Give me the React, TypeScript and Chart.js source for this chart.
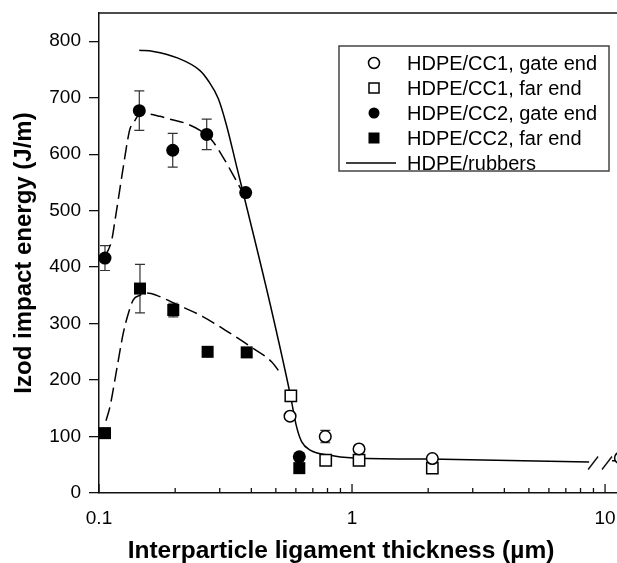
import React, { useEffect, useRef } from 'react';
import { Chart, registerables } from 'chart.js';

Chart.register(...registerables);

// ---------- data ----------
const cc1GateX = [0.569, 0.784, 1.066, 2.077, 11.5];
const cc1GateY = [136, 100, 78, 61, 62];
const cc1GateErr = [0, 11, 0, 0, 0];

const cc1FarX = [0.573, 0.787, 1.066, 2.077];
const cc1FarY = [172, 58, 58, 44];

const cc2GateX = [0.1056, 0.1443, 0.1956, 0.2665, 0.38, 0.619];
const cc2GateY = [416, 677, 607, 635, 532, 64];
const cc2GateErr = [22, 35, 30, 27, 0, 0];

const cc2FarX = [0.1056, 0.1452, 0.1966, 0.2687, 0.3835, 0.619];
const cc2FarY = [106, 362, 324, 250, 249, 44];
const cc2FarErr = [8, 43, 12, 0, 0, 0];

const rubbersX = [0.1443, 0.164, 0.2026, 0.2507, 0.2703, 0.2963, 0.3196, 0.35, 0.389, 0.4738, 0.569, 0.604, 0.632, 0.683, 0.818, 0.984, 2.03, 8.65, 9.5, 10.66, 11.5];
const rubbersY: (number | null)[] = [784, 782, 771, 748, 730, 698, 650, 578, 495, 336, 176, 117, 91, 76, 67, 62.5, 60, 55, null, 57, 57];

const gateFitX = [0.1056, 0.1123, 0.1157, 0.1248, 0.1306, 0.1326, 0.1388, 0.1443, 0.1497, 0.1742, 0.1908, 0.2187, 0.2507, 0.2788, 0.306, 0.3392, 0.366, 0.378];
const gateFitY = [418, 448, 483, 578, 632, 645, 660, 671, 672, 667, 662, 655, 642, 625, 598, 563, 536, 524];

const farFitX = [0.1066, 0.1105, 0.1174, 0.1247, 0.1306, 0.1366, 0.1452, 0.1544, 0.1689, 0.2026, 0.2582, 0.3294, 0.4068, 0.4818, 0.527];
const farFitY = [128, 153, 218, 283, 318, 342, 350, 354, 350, 334, 312, 283, 256, 232, 209];

const breakAtX = [8.97, 10.18];
const breakAtY = 54;

const yTicks = [0, 100, 200, 300, 400, 500, 600, 700, 800];
const xLabelTicks = [0.1, 1, 10];

const xTitle = 'Interparticle ligament thickness (\u00b5m)';
const yTitle = 'Izod impact energy (J/m)';

const legendLabels = [
  'HDPE/CC1, gate end',
  'HDPE/CC1, far end',
  'HDPE/CC2, gate end',
  'HDPE/CC2, far end',
  'HDPE/rubbers',
];

const FONT = "'Liberation Sans', Arial, Helvetica, sans-serif";

const pts = (xs: number[], ys: (number | null)[]) => xs.map((x, i) => ({ x, y: ys[i] }));

const isNiceLog = (v: number) => {
  const e = Math.floor(Math.log10(v) + 1e-9);
  const s = v / Math.pow(10, e);
  return Math.abs(s - Math.round(s)) < 1e-6;
};

const errorBarPlugin = {
  id: 'errorBars',
  beforeDatasetsDraw(chart: any) {
    const ctx = chart.ctx;
    const xs = chart.scales.x;
    const ys = chart.scales.y;
    const sets = [
      { x: cc1GateX, y: cc1GateY, e: cc1GateErr },
      { x: cc2GateX, y: cc2GateY, e: cc2GateErr },
      { x: cc2FarX, y: cc2FarY, e: cc2FarErr },
    ];
    ctx.save();
    ctx.strokeStyle = '#333';
    ctx.lineWidth = 1.2;
    sets.forEach((s) => {
      s.x.forEach((xv, i) => {
        const err = s.e[i];
        if (!err) return;
        const px = xs.getPixelForValue(xv);
        const top = ys.getPixelForValue(s.y[i] + err);
        const bot = ys.getPixelForValue(s.y[i] - err);
        ctx.beginPath();
        ctx.moveTo(px, top);
        ctx.lineTo(px, bot);
        ctx.moveTo(px - 5, top);
        ctx.lineTo(px + 5, top);
        ctx.moveTo(px - 5, bot);
        ctx.lineTo(px + 5, bot);
        ctx.stroke();
      });
    });
    ctx.restore();
  },
};

const framePlugin = {
  id: 'frameExtras',
  afterDatasetsDraw(chart: any) {
    const ctx = chart.ctx;
    const { left, right, top, bottom } = chart.chartArea;
    const xs = chart.scales.x;
    const ys = chart.scales.y;
    ctx.save();
    ctx.strokeStyle = '#111';
    ctx.lineWidth = 1.5;
    // top frame line
    ctx.beginPath();
    ctx.moveTo(left, top);
    ctx.lineTo(right, top);
    ctx.stroke();
    // inward x ticks
    ctx.lineWidth = 1.3;
    xs.ticks.forEach((t: any) => {
      const v = t.value;
      if (!isNiceLog(v)) return;
      const l = Math.log10(v);
      const major = Math.abs(l - Math.round(l)) < 1e-6;
      const px = xs.getPixelForValue(v);
      ctx.beginPath();
      ctx.moveTo(px, bottom);
      ctx.lineTo(px, bottom - (major ? 9 : 5));
      ctx.stroke();
    });
    // axis break marks
    ctx.lineWidth = 1.4;
    breakAtX.forEach((bx) => {
      const px = xs.getPixelForValue(bx);
      const py = ys.getPixelForValue(breakAtY);
      ctx.beginPath();
      ctx.moveTo(px - 5, py + 7);
      ctx.lineTo(px + 5, py - 6);
      ctx.stroke();
    });
    ctx.restore();
  },
};

const legendPlugin = {
  id: 'boxLegend',
  afterDraw(chart: any) {
    const ctx = chart.ctx;
    const { right, top, bottom, left } = chart.chartArea;
    // x-axis title
    ctx.save();
    ctx.fillStyle = '#000';
    ctx.font = `bold 24.5px ${FONT}`;
    ctx.textAlign = 'center';
    ctx.textBaseline = 'alphabetic';
    ctx.fillText(xTitle, left + 242, bottom + 65);
    ctx.restore();

    const boxL = right - 278;
    const boxR = right - 8;
    const boxT = top + 33;
    const boxB = top + 158;
    ctx.save();
    ctx.fillStyle = '#fff';
    ctx.fillRect(boxL, boxT, boxR - boxL, boxB - boxT);
    ctx.strokeStyle = '#444';
    ctx.lineWidth = 1.5;
    ctx.strokeRect(boxL, boxT, boxR - boxL, boxB - boxT);
    const markerX = boxL + 35;
    const textX = boxL + 68;
    ctx.font = `20px ${FONT}`;
    ctx.textBaseline = 'middle';
    ctx.textAlign = 'left';
    legendLabels.forEach((label, i) => {
      const y = boxT + 17 + i * 25;
      const ds = chart.data.datasets[i];
      ctx.strokeStyle = '#000';
      ctx.fillStyle = '#000';
      if (i === 4) {
        ctx.lineWidth = 1.5;
        ctx.beginPath();
        ctx.moveTo(boxL + 7, y);
        ctx.lineTo(boxL + 57, y);
        ctx.stroke();
      } else {
        ctx.lineWidth = 1.5;
        const filled = ds.pointBackgroundColor === '#000';
        if (ds.pointStyle === 'circle') {
          ctx.beginPath();
          ctx.arc(markerX, y, 5.5, 0, Math.PI * 2);
          if (filled) ctx.fill();
          else ctx.stroke();
        } else {
          if (filled) ctx.fillRect(markerX - 5.5, y - 5.5, 11, 11);
          else ctx.strokeRect(markerX - 5, y - 5, 10, 10);
        }
      }
      ctx.fillStyle = '#000';
      ctx.fillText(label, textX, y + 1);
    });
    ctx.restore();
  },
};

export default function App() {
  const ref = useRef<HTMLCanvasElement | null>(null);

  useEffect(() => {
    if (!ref.current) return;
    const chart = new Chart(ref.current, {
      type: 'scatter',
      data: {
        datasets: [
          {
            label: legendLabels[0],
            data: pts(cc1GateX, cc1GateY),
            pointStyle: 'circle',
            pointRadius: 5.8,
            pointBorderWidth: 1.5,
            pointBorderColor: '#000',
            pointBackgroundColor: '#fff',
            showLine: false,
          },
          {
            label: legendLabels[1],
            data: pts(cc1FarX, cc1FarY),
            pointStyle: 'rect',
            pointRadius: 8,
            pointBorderWidth: 1.5,
            pointBorderColor: '#000',
            pointBackgroundColor: '#fff',
            showLine: false,
          },
          {
            label: legendLabels[2],
            data: pts(cc2GateX, cc2GateY),
            pointStyle: 'circle',
            pointRadius: 6.5,
            pointBorderWidth: 0,
            pointBorderColor: '#000',
            pointBackgroundColor: '#000',
            showLine: false,
          },
          {
            label: legendLabels[3],
            data: pts(cc2FarX, cc2FarY),
            pointStyle: 'rect',
            pointRadius: 8.5,
            pointBorderWidth: 0,
            pointBorderColor: '#000',
            pointBackgroundColor: '#000',
            showLine: false,
          },
          {
            label: legendLabels[4],
            data: pts(rubbersX, rubbersY),
            showLine: true,
            pointRadius: 0,
            borderColor: '#000',
            borderWidth: 1.5,
            cubicInterpolationMode: 'monotone',
            spanGaps: false,
          },
          {
            label: 'fit CC2 gate',
            data: pts(gateFitX, gateFitY),
            showLine: true,
            pointRadius: 0,
            borderColor: '#000',
            borderWidth: 1.5,
            borderDash: [14, 6],
            cubicInterpolationMode: 'monotone',
          },
          {
            label: 'fit CC2 far',
            data: pts(farFitX, farFitY),
            showLine: true,
            pointRadius: 0,
            borderColor: '#000',
            borderWidth: 1.5,
            borderDash: [14, 6],
            cubicInterpolationMode: 'monotone',
          },
        ] as any,
      },
      options: {
        animation: false,
        responsive: false,
        devicePixelRatio: 1,
        layout: { autoPadding: false, padding: { top: 13, right: 0, left: 0, bottom: 0 } },
        plugins: {
          legend: { display: false },
          tooltip: { enabled: false },
        },
        scales: {
          x: {
            type: 'logarithmic',
            min: 0.1,
            max: 11.15,
            afterFit: (scale: any) => {
              scale.height = 70;
              scale.paddingLeft = 0;
              scale.paddingRight = 0;
              scale.paddingTop = 0;
              scale.paddingBottom = 0;
            },
            border: { display: true, color: '#111', width: 1.5 },
            grid: { display: true, drawOnChartArea: false, drawTicks: false },
            ticks: {
              autoSkip: false,
              maxRotation: 0,
              padding: 14,
              color: '#000',
              font: { family: FONT, size: 19 },
              callback: (v: any) => {
                const val = Number(v);
                return xLabelTicks.some((t) => Math.abs(t - val) < 1e-9) ? String(val) : '';
              },
            },
            title: { display: false },
          },
          y: {
            type: 'linear',
            min: 0,
            max: 850,
            afterBuildTicks: (scale: any) => {
              scale.ticks = yTicks.map((v) => ({ value: v }));
            },
            afterFit: (scale: any) => {
              scale.width = 99;
              scale.paddingLeft = 0;
              scale.paddingRight = 0;
              scale.paddingTop = 0;
              scale.paddingBottom = 0;
            },
            border: { display: true, color: '#111', width: 1.5 },
            grid: {
              display: true,
              drawOnChartArea: false,
              drawTicks: true,
              tickLength: 10,
              color: '#111',
              lineWidth: 1.3,
            },
            ticks: {
              padding: 8,
              color: '#000',
              font: { family: FONT, size: 19 },
            },
            title: {
              display: true,
              text: yTitle,
              color: '#000',
              font: { family: FONT, size: 24, weight: 'bold', lineHeight: 1.2 },
              padding: { top: 10, bottom: 0 },
            },
          },
        },
      } as any,
      plugins: [errorBarPlugin, framePlugin, legendPlugin],
    });
    return () => chart.destroy();
  }, []);

  return (
    <div style={{ position: 'absolute', left: 0, top: 0, width: 617, height: 563, background: '#fff' }}>
      <canvas ref={ref} width={617} height={563} style={{ display: 'block', width: 617, height: 563 }} />
    </div>
  );
}
